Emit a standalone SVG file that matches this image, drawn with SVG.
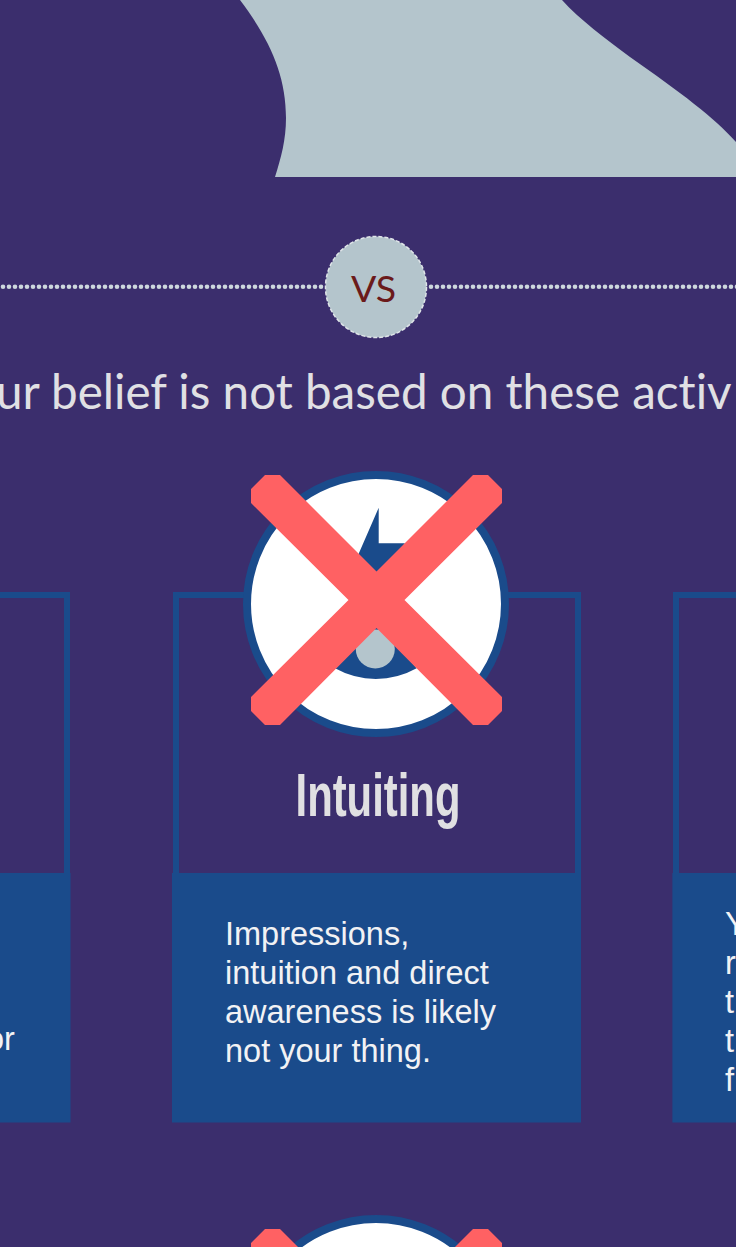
<svg xmlns="http://www.w3.org/2000/svg" width="736" height="1247" viewBox="0 0 736 1247">
<style>
.frame{fill:none;stroke:#1a4b8b;stroke-width:6}
.panel{fill:#1a4b8b}
.body{font-family:"Liberation Sans",Arial,sans-serif;font-size:32.500px;fill:#f2f2f4}
.disc{fill:#fff;stroke:#1a4b8b;stroke-width:8}
.cross{fill:#ff6163}
.dots{stroke:#cdd8dd;stroke-width:4.600;stroke-linecap:round;stroke-dasharray:0 6;fill:none}
</style>
<defs>
<path id="x" class="cross" d="M265 475H280L376.500 571.500L473 475H488L502 489V503L404.500 600L502 697V711L488 725H473L376.500 628L280 725H265L251 711V697L348.500 600L251 503V489Z"/>
</defs>
<rect width="736" height="1247" fill="#3b2e6d"/>
<path id="hill" fill="#b4c5cc" d="M240 0C270 40 286 75 286 118C286 140 281 158 275 177H736V142C715 118 680 92 630 57C605 38 580 20 562 0Z"/>
<g id="connectors">
<path class="dots" d="M-3 286.700H322"/>
<path class="dots" d="M431 286.700H738"/>
</g>
<g id="vs">
<circle cx="376" cy="287" r="50.500" fill="#b4c5cc" stroke="#dfe5e8" stroke-width="1.500" stroke-dasharray="4 2"/>
<text x="373.500" y="301.500" text-anchor="middle" font-family="Lato,sans-serif" font-size="37.500" fill="#6b1a1a">VS</text>
</g>
<text id="headline" x="-4" y="409" font-family="Lato,sans-serif" font-size="47.600" fill="#e0e0e4" style="font-variant-ligatures:none">ur belief is not based on these activ</text>
<g id="left-card">
<rect class="frame" x="-20" y="595" width="87" height="290"/>
<rect class="panel" x="-20" y="873" width="90.500" height="249.500"/>
<text class="body" x="-14" y="1050">or</text>
</g>
<g id="center-card">
<rect class="frame" x="176" y="595" width="402" height="290"/>
<rect class="panel" x="172" y="873" width="409" height="249.500"/>
<g id="eye-icon">
<circle class="disc" cx="376" cy="604" r="129"/>
<path class="panel" d="M378.700 507.700V543.300H405L376 580H350L359 553Z"/>
<path class="panel" d="M335 668.300A84 84 0 0 0 416.700 668.300L376 620Z"/>
<circle cx="375.300" cy="649" r="19.500" fill="#b4c5cc"/>
<use href="#x"/>
</g>
<text x="378" y="816" text-anchor="middle" font-family="'Liberation Sans Narrow','Liberation Sans',sans-serif" font-weight="700" font-size="62" fill="#e0e0e2" textLength="165" lengthAdjust="spacingAndGlyphs">Intuiting</text>
<text class="body"><tspan x="225" y="945">Impressions,</tspan><tspan x="225" y="984">intuition and direct</tspan><tspan x="225" y="1023">awareness is likely</tspan><tspan x="225" y="1062">not your thing.</tspan></text>
</g>
<g id="right-card">
<rect class="frame" x="676" y="595" width="90" height="290"/>
<rect class="panel" x="672.400" y="873" width="90" height="249.500"/>
<text class="body"><tspan x="725" y="935">Y</tspan><tspan x="725" y="974">r</tspan><tspan x="725" y="1013">t</tspan><tspan x="725" y="1052">t</tspan><tspan x="725" y="1091">f</tspan></text>
</g>
<g id="next-icon">
<circle class="disc" cx="376" cy="1348" r="129"/>
<use href="#x" y="754"/>
</g>
</svg>
